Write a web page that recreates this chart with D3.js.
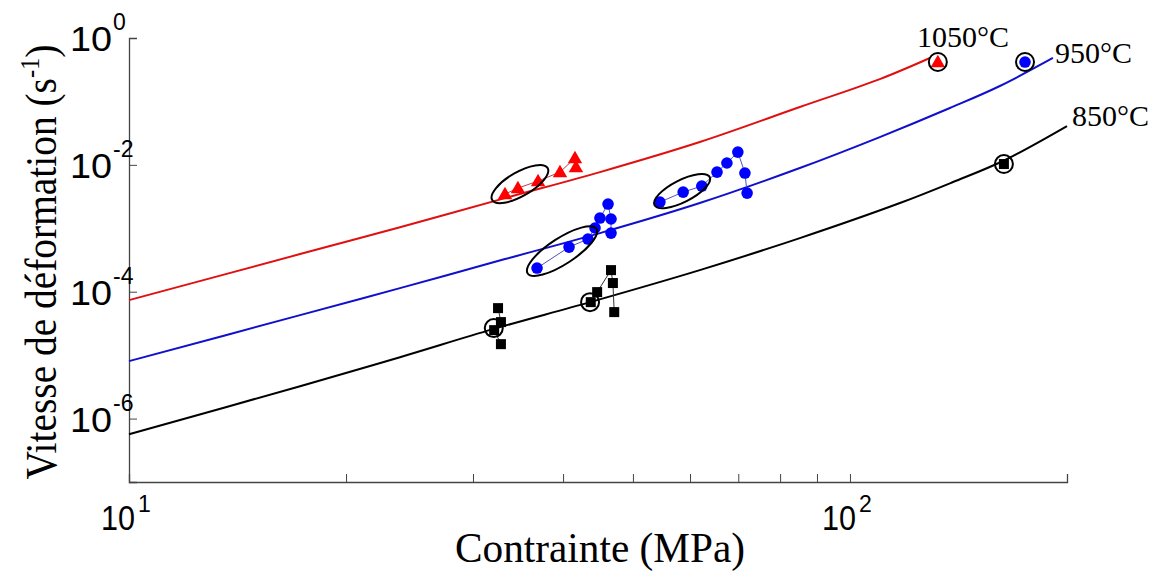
<!DOCTYPE html>
<html><head><meta charset="utf-8">
<script src="https://cdn.jsdelivr.net/npm/d3@7"></script>
<style>body{margin:0;background:#fff}svg{display:block}</style>
</head><body>
<svg id="c" width="1159" height="573"></svg>
<script>
// ---- data (stress MPa, strain rate s^-1) ----
const curve1050x = [10, 17.27, 23.76, 33.23, 45.0, 61.9, 85.2, 110.0, 129.1];
const curve1050y = [7.36e-5, 3.92e-4, 1.04e-3, 2.99e-3, 7.69e-3, 2.29e-2, 8.16e-2, 0.225, 0.484];
const curve950x = [10, 17.27, 23.76, 33.23, 45.0, 61.9, 85.2, 110.0, 137.6, 161.4, 191.2];
const curve950y = [8.04e-6, 4.27e-5, 1.14e-4, 3.27e-4, 8.40e-4, 2.50e-3, 8.91e-3, 2.74e-2, 7.87e-2, 0.175, 0.484];
const curve850x = [10, 17.27, 23.76, 31.98, 43.6, 61.9, 85.2, 117.3, 139.0, 163.0, 200];
const curve850y = [5.67e-7, 3.24e-6, 9.29e-6, 2.57e-5, 6.85e-5, 2.19e-4, 7.00e-4, 2.50e-3, 5.36e-3, 1.15e-2, 4.09e-2];

const tri1050x = [33.23, 34.63, 36.93, 39.61, 41.55, 41.68];
const tri1050y = [3.46e-3, 4.30e-3, 5.55e-3, 7.69e-3, 1.28e-2, 9.23e-3];
const dotA950x = [36.81, 40.77, 43.31, 44.30, 45.0, 46.18, 46.62, 46.62];
const dotA950y = [2.36e-4, 5.05e-4, 6.76e-4, 1.01e-3, 1.45e-3, 2.41e-3, 1.40e-3, 8.40e-4];
const dotB950x = [54.5, 58.7, 62.3, 65.4, 67.5, 69.9, 71.5, 72.0];
const dotB950y = [2.59e-3, 3.72e-3, 4.63e-3, 7.69e-3, 1.07e-2, 1.59e-2, 7.43e-3, 3.59e-3];
const sqA850x = [32.5, 32.8, 32.1, 32.8];
const sqA850y = [5.51e-5, 3.32e-5, 2.48e-5, 1.49e-5];
const sqB850x = [43.7, 44.6, 46.62, 46.9, 47.1];
const sqB850y = [6.85e-5, 9.86e-5, 2.19e-4, 1.37e-4, 4.77e-5];

const single1050 = [132.4, 0.418];
const single950 = [174.9, 0.418];
const single850 = [163.5, 1.03e-2];
const circledX = [32.06, 43.6, 132.4, 174.9, 163.5];
const circledY = [2.67e-5, 6.85e-5, 0.418, 0.418, 1.03e-2];

const ellipseX = [34.85, 39.87, 58.5];
const ellipseY = [4.98e-3, 4.37e-4, 3.86e-3];

const xTicks = [10, 20, 30, 40, 50, 60, 70, 80, 90, 100, 200];
const xTickLabels = [[10, "1"], [100, "2"]];
const yTicks = [1, 1e-2, 1e-4, 1e-6];
const yTickLabels = ["0", "-2", "-4", "-6"];
const curveLabels = ["1050°C", "950°C", "850°C"];

// ---- layout ----
const L = 129, R = 1067, T = 38, B = 482;
const svg = d3.select("#c");
const x = d3.scaleLog().domain([10, 200]).range([L, R]);
const y = d3.scaleLog().domain([1e-7, 1]).range([B, T]);

const RED = "#e01010", BLUE = "#1010cc";
const line = d3.line().x(d => x(d[0])).y(d => y(d[1])).curve(d3.curveCatmullRom.alpha(0.5));
const zip = (a, b) => a.map((v, i) => [v, b[i]]);

// axes
const axisColor = "#444";
const gx = svg.append("g").attr("transform", `translate(0,${B})`)
  .call(d3.axisBottom(x).tickValues(xTicks).tickSize(-8).tickFormat(""));
const gy = svg.append("g").attr("transform", `translate(${L},0)`)
  .call(d3.axisLeft(y).tickValues(yTicks).tickSize(-8).tickFormat(""));
[gx, gy].forEach(g => {
  g.select(".domain").attr("stroke", axisColor).attr("stroke-width", 1.3);
  g.selectAll(".tick line").attr("stroke", axisColor).attr("stroke-width", 1);
});

// tick labels
const tf = "'Liberation Sans', Arial, sans-serif";
yTicks.forEach((v, i) => {
  const yy = y(v);
  svg.append("text").attr("x", 112).attr("y", yy + 13).attr("text-anchor", "end")
    .attr("font-family", tf).attr("font-size", 35).attr("textLength", 42)
    .attr("lengthAdjust", "spacingAndGlyphs").text("10");
  svg.append("text").attr("x", 113).attr("y", yy - 8).attr("text-anchor", "start")
    .attr("font-family", tf).attr("font-size", 23).text(yTickLabels[i]);
});
xTickLabels.forEach(([v, e]) => {
  const xx = x(v);
  svg.append("text").attr("x", xx - 11).attr("y", 530).attr("text-anchor", "middle")
    .attr("font-family", tf).attr("font-size", 35).attr("textLength", 34)
    .attr("lengthAdjust", "spacingAndGlyphs").text("10");
  svg.append("text").attr("x", xx + 9).attr("y", 512).attr("text-anchor", "start")
    .attr("font-family", tf).attr("font-size", 23).text(e);
});

// axis titles
const sf = "'Liberation Serif', 'Times New Roman', serif";
svg.append("text").attr("x", 600).attr("y", 562).attr("text-anchor", "middle")
  .attr("font-family", sf).attr("font-size", 43)
  .attr("textLength", 290).attr("lengthAdjust", "spacingAndGlyphs")
  .text("Contrainte (MPa)");
const yl = svg.append("text").attr("transform", "translate(56,262) rotate(-90)")
  .attr("text-anchor", "middle").attr("font-family", sf).attr("font-size", 45)
  .attr("textLength", 435).attr("lengthAdjust", "spacingAndGlyphs");
yl.append("tspan").text("Vitesse de déformation (s");
yl.append("tspan").attr("font-size", 28).attr("dy", -17).text("-1");
yl.append("tspan").attr("dy", 17).text(")");

// model curves
svg.append("path").datum(zip(curve1050x, curve1050y)).attr("d", line)
  .attr("fill", "none").attr("stroke", RED).attr("stroke-width", 2);
svg.append("path").datum(zip(curve950x, curve950y)).attr("d", line)
  .attr("fill", "none").attr("stroke", BLUE).attr("stroke-width", 2);
svg.append("path").datum(zip(curve850x, curve850y)).attr("d", line)
  .attr("fill", "none").attr("stroke", "#000").attr("stroke-width", 2);

// connecting thin lines
const lin = d3.line().x(d => x(d[0])).y(d => y(d[1]));
[[tri1050x, tri1050y, "#c04040"], [dotA950x, dotA950y, "#5050c0"], [dotB950x, dotB950y, "#5050c0"],
 [sqA850x, sqA850y, "#333"], [sqB850x, sqB850y, "#333"]].forEach(([a, b, c]) => {
  svg.append("path").datum(zip(a, b)).attr("d", lin).attr("fill", "none")
    .attr("stroke", c).attr("stroke-width", 1);
});

// markers
const triSym = d3.symbol().type(d3.symbolTriangle).size(90);
const triPts = zip(tri1050x, tri1050y).concat([single1050]);
svg.selectAll(".tri").data(triPts).join("path")
  .attr("transform", d => `translate(${x(d[0])},${y(d[1]) + 1})`)
  .attr("d", triSym).attr("fill", "#ff0000");
const dotPts = zip(dotA950x, dotA950y).concat(zip(dotB950x, dotB950y)).concat([single950]);
svg.selectAll(".dot").data(dotPts).join("circle")
  .attr("cx", d => x(d[0])).attr("cy", d => y(d[1])).attr("r", 5.8).attr("fill", "#0000ff");
const sqPts = zip(sqA850x, sqA850y).concat(zip(sqB850x, sqB850y)).concat([single850]);
svg.selectAll(".sq").data(sqPts).join("rect")
  .attr("x", d => x(d[0]) - 5).attr("y", d => y(d[1]) - 5)
  .attr("width", 10).attr("height", 10).attr("fill", "#000");

// circles around points
svg.selectAll(".circ").data(zip(circledX, circledY)).join("circle")
  .attr("cx", d => x(d[0])).attr("cy", d => y(d[1])).attr("r", 9)
  .attr("fill", "none").attr("stroke", "#000").attr("stroke-width", 2);

// ellipses
const ell = [[32, 12, -30], [41, 13, -33], [31, 11, -27]];
ellipseX.forEach((v, i) => {
  svg.append("ellipse")
    .attr("transform", `translate(${x(v)},${y(ellipseY[i])}) rotate(${ell[i][2]})`)
    .attr("rx", ell[i][0]).attr("ry", ell[i][1])
    .attr("fill", "none").attr("stroke", "#000").attr("stroke-width", 2);
});

// curve labels
const lblPos = [[917, 47], [1055, 63], [1072, 126]];
curveLabels.forEach((t, i) => {
  svg.append("text").attr("x", lblPos[i][0]).attr("y", lblPos[i][1])
    .attr("font-family", sf).attr("font-size", 30).text(t);
});
</script>
</body></html>
